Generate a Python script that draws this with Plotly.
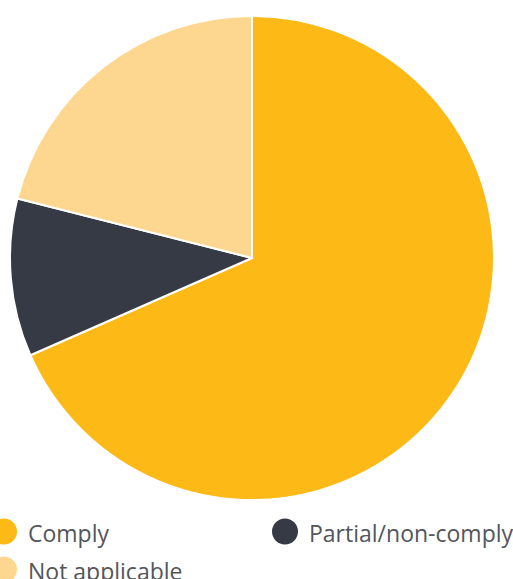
import plotly.graph_objects as go

categories = ["Comply", "Partial/non-comply", "Not applicable"]
values = [13, 2, 4]
colors = ["#FDB915", "#363A45", "#FDD78F"]

W, H = 513, 579

fig = go.Figure()
fig.add_trace(go.Pie(
    labels=categories,
    values=values,
    marker=dict(colors=colors, line=dict(color="white", width=2)),
    sort=False,
    direction="clockwise",
    rotation=0,
    textinfo="none",
    hoverinfo="label+value+percent",
    showlegend=False,
    domain=dict(x=[10 / W, 494 / W], y=[1 - 500 / H, 1 - 16 / H]),
))

# manual legend (circle markers)
legend_pos = [(4, 531.5, 28), (285, 531.5, 309), (4, 569.5, 28)]
shapes = []
annotations = []
r = 13
for (cx, cy, tx), name, col in zip(legend_pos, categories, colors):
    shapes.append(dict(type="circle", xref="paper", yref="paper",
                       x0=(cx - r) / W, x1=(cx + r) / W,
                       y0=1 - (cy + r) / H, y1=1 - (cy - r) / H,
                       fillcolor=col, line=dict(width=0)))
    annotations.append(dict(text=name, xref="paper", yref="paper",
                            x=(tx - 2) / W, y=1 - (cy + 1) / H,
                            xanchor="left", yanchor="middle", showarrow=False,
                            font=dict(family="Open Sans, sans-serif", size=23, color="#53565A")))

fig.update_layout(
    width=W, height=H, autosize=False,
    margin=dict(l=0, r=0, t=0, b=0),
    paper_bgcolor="white", plot_bgcolor="white",
    shapes=shapes, annotations=annotations,
)
fig.write_html("out.html", config={"displayModeBar": False},
               post_script="document.body.style.margin='0';document.body.style.overflow='hidden';")
